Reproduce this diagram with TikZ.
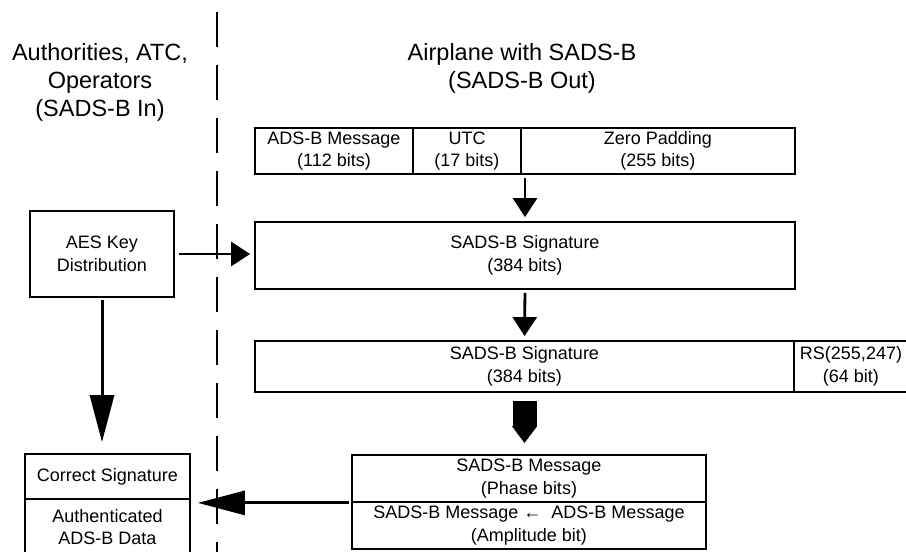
\documentclass[tikz,border=0pt]{standalone}
\usepackage{fontspec}
\setmainfont{Liberation Sans}
\usetikzlibrary{arrows.meta,calc}
\begin{document}
\begin{tikzpicture}[x=1pt,y=-1pt,
  box/.style={draw, line width=1.8pt, inner sep=0pt, align=center, font=\fontsize{18}{22.5}\selectfont, anchor=center},
  ttl/.style={align=center, font=\fontsize{23.5}{28}\selectfont, inner sep=0pt},
  thin arrow/.style={line width=2.8pt, -{Triangle[length=19pt,width=24pt]}},
  big arrow/.style={line width=3pt, -{Triangle[length=47pt,width=24pt]}},
  block arrow/.style={line width=24pt, -{Triangle[length=17pt,width=24pt]}},
  divider/.style={line width=2.4pt, dash pattern=on 35pt off 18pt}]
\useasboundingbox[fill=white] (0,0) rectangle (906,552);

% titles
\node[ttl] (tl) at (100,82) {Authorities, ATC,\\Operators\\(SADS-B In)};
\node[ttl] (tr) at (522,68) {Airplane with SADS-B\\(SADS-B Out)};

% divider
\coordinate (dtop) at (217,12);
\coordinate (dbot) at (217,560);
\draw[divider] (dtop) -- (dbot);

% top row
\node[box, minimum width=158pt, minimum height=46pt] (msg) at (334,151) {ADS-B Message\\(112 bits)};
\node[box, minimum width=108pt, minimum height=46pt] (utc) at (467,151) {UTC\\(17 bits)};
\node[box, minimum width=274pt, minimum height=46pt] (zp) at (658,151) {Zero Padding\\(255 bits)};

% signature
\node[box, minimum width=540pt, minimum height=67pt] (sig1) at (525,255.5) {SADS-B Signature\\(384 bits)};

% AES
\node[box, minimum width=144pt, minimum height=86pt] (aes) at (102,254) {AES Key\\Distribution};

% signature + RS
\node[box, minimum width=539pt, minimum height=51pt] (sig2) at (524.5,366.5) {SADS-B Signature\\(384 bits)};
\node[box, minimum width=114pt, minimum height=51pt] (rs) at (851,366.5) {RS(255,247)\\(64 bit)};

% bottom right
\node[box, minimum width=354pt, minimum height=47pt] (brtop) at (529,478.5) {SADS-B Message\\(Phase bits)};
\node[box, minimum width=354pt, minimum height=47pt] (brbot) at (529,525.5) {SADS-B Message ← \ ADS-B Message\\(Amplitude bit)};

% bottom left
\node[box, minimum width=165pt, minimum height=45pt] (bltop) at (107.5,476.5) {Correct Signature};
\node[box, minimum width=165pt, minimum height=56pt] (blbot) at (107.5,527) {Authenticated\\ADS-B Data};

% arrows
\draw[thin arrow, shorten <=3pt, shorten >=4pt] (sig1.north |- zp.south) -- (sig1.north);
\draw[thin arrow, shorten <=3pt, shorten >=4pt] (sig1.south) -- (sig2.north);
\draw[thin arrow, shorten <=4pt, shorten >=4pt] (aes.east) -- (aes.east -| sig1.west);
\draw[block arrow, shorten <=8pt, shorten >=11pt] (sig2.south) -- (sig2.south |- brtop.north);
\draw[big arrow, shorten <=2pt, shorten >=11pt] (aes.south) -- (aes.south |- bltop.north);
\draw[big arrow, shorten <=2pt, shorten >=7pt] (brtop.south west) -- (brtop.south west -| bltop.east);
\end{tikzpicture}
\end{document}
